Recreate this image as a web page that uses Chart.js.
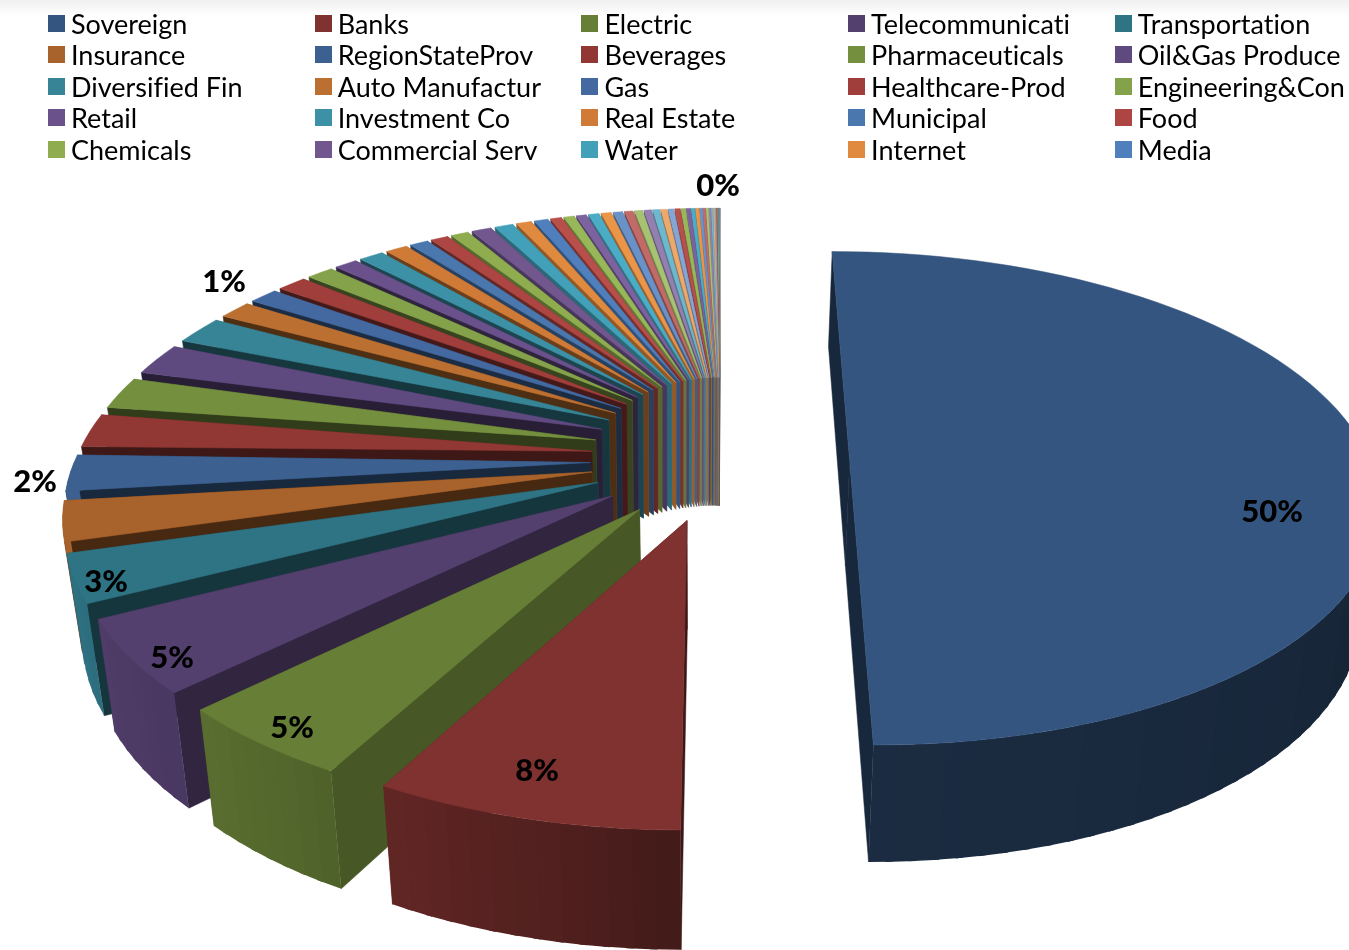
<!DOCTYPE html>
<html>
<head>
<meta charset="utf-8">
<script src="https://cdn.jsdelivr.net/npm/chart.js@4"></script>
<style>
html, body { margin: 0; padding: 0; width: 1349px; height: 950px; overflow: hidden; background: #fff; }
#fade { position: absolute; left: 0; top: 0; width: 1349px; height: 16px; background: linear-gradient(#f0f0f0, #fff); }
#chartSectores { position: absolute; left: 0; top: 0; }
#leyenda { position: absolute; left: 48px; top: 7.6px; display: grid; grid-template-columns: repeat(5, 266.7px); grid-auto-rows: 31.5px;
  font-family: Lato, sans-serif; font-size: 27px; font-variant-ligatures: none; color: #000; white-space: nowrap; }
#leyenda div { display: flex; align-items: center; }
#leyenda i { display: inline-block; width: 17px; height: 17px; margin-right: 6px; flex: none; }
</style>
</head>
<body>
<div id="fade"></div>
<canvas id="chartSectores" width="1349" height="950"></canvas>
<div id="leyenda"></div>
<script>
const categories = [
    'Sovereign', 'Banks', 'Electric', 'Telecommunicati', 'Transportation',
    'Insurance', 'RegionStateProv', 'Beverages', 'Pharmaceuticals', 'Oil&Gas Produce',
    'Diversified Fin', 'Auto Manufactur', 'Gas', 'Healthcare-Prod', 'Engineering&Con',
    'Retail', 'Investment Co', 'Real Estate', 'Municipal', 'Food',
    'Chemicals', 'Commercial Serv', 'Water', 'Internet', 'Media'
];
const shares = [
    50, 7.9, 4.8, 4.75, 3.1,
    2.6, 2.35, 2.2, 2.1, 2.1,
    1.85, 1.2, 1.05, 1.07, 0.97,
    0.83, 0.89, 0.79, 0.67, 0.64,
    0.64, 0.72, 0.67, 0.55, 0.5,
    // las que no salen en la leyenda
    0.4, 0.38, 0.36, 0.38, 0.36, 0.34, 0.3, 0.28, 0.26, 0.24,
    0.22, 0.2, 0.18, 0.16, 0.14, 0.13, 0.12, 0.1, 0.09, 0.08,
    0.07, 0.06, 0.05, 0.04, 0.03, 0.03, 0.02, 0.02, 0.01, 0.01
];
const legendColors = [
    '#34557f', '#7f3230', '#667e36', '#54406f', '#2f7485',
    '#a8622b', '#3c6191', '#913835', '#748f3e', '#5f4a80',
    '#368496', '#bb6f30', '#4369a0', '#a03e3b', '#84a24a',
    '#6b518c', '#3c91a7', '#d07a37', '#4a77ae', '#ad4643',
    '#8fad4e', '#72578f', '#42a0b8', '#e08a3f', '#4f80bd'
];
const tailColors = ['#b84f4b', '#97b758', '#7d62a0', '#4bacc6', '#eb9549', '#6a92c8', '#c26a67', '#a7c272', '#9380b0', '#6db8ce', '#eda86c', '#85a5d2'];
const percentLabels = [
    { slice: 0, x: 1272, y: 512 },
    { slice: 1, x: 537, y: 771 },
    { slice: 2, x: 292, y: 728 },
    { slice: 3, x: 172, y: 658 },
    { slice: 4, x: 106, y: 582 },
    { slice: 6, x: 35, y: 482 },
    { slice: 11, x: 224, y: 282 },
    { slice: 54, x: 718, y: 186 }
];

const sliceColors = shares.map((_, i) => i < legendColors.length ? legendColors[i] : tailColors[(i - legendColors.length) % tailColors.length]);

// vista: perspectiva del disco, la separacion y el canto
const view = { cx: 720, cy: 460, ax: 518, ay: 240.6, persp: 0.155, perspX: 0.003, explode: 0.25 };

function proyectar(X, Y) {
    const w = 1 - view.persp * Y - view.perspX * X;
    return { x: view.cx + view.ax * X / w, y: view.cy + view.ay * Y / w };
}

// el canto baja mas por delante y se cierra un poco hacia el centro
function bajar(p, Y) {
    return { x: p.x - 0.028 * (p.x - 700), y: p.y + 106 + 11 * Y };
}

function sombra(hex, f) {
    const n = parseInt(hex.slice(1), 16);
    return `rgb(${Math.round((n >> 16) * f)},${Math.round(((n >> 8) & 255) * f)},${Math.round((n & 255) * f)})`;
}

function tramo(tabla, t) {
    if (t <= tabla[0][0]) return tabla[0][1];
    for (let i = 1; i < tabla.length; i++) {
        if (t <= tabla[i][0]) {
            const [a, fa] = tabla[i - 1], [b, fb] = tabla[i];
            return fa + (fb - fa) * (t - a) / (b - a);
        }
    }
    return tabla[tabla.length - 1][1];
}

const luzCanto = [[90, 0.4], [180, 0.52], [190, 0.62], [215, 0.82], [255, 1]];
const luzRadial = [[180, 0.47], [200, 0.75], [230, 0.55], [250, 0.42], [315, 0.42], [335, 0.65]];

function poligono(ctx, puntos, color, conBorde = true) {
    ctx.beginPath();
    puntos.forEach((p, i) => i ? ctx.lineTo(p.x, p.y) : ctx.moveTo(p.x, p.y));
    ctx.closePath();
    ctx.fillStyle = color;
    ctx.fill();
    if (conBorde) {
        ctx.strokeStyle = color;
        ctx.lineWidth = 0.5;
        ctx.stroke();
    }
}

function dibujarSector(ctx, arc, color) {
    const { startAngle: a0, endAngle: a1 } = arc;
    const mid = (a0 + a1) / 2;
    const ex = view.explode * Math.cos(mid), ey = view.explode * Math.sin(mid);
    const borde = a => [ex + Math.cos(a), ey + Math.sin(a)];
    const pasos = Math.max(1, Math.ceil((a1 - a0) / 0.04));

    // los vertices del fondo suben algo mas de lo que daria la separacion
    const apice = proyectar(ex, ey < 0 ? ey * 1.45 : ey);
    const apiceBajo = bajar(proyectar(ex, ey), ey);

    const [fx, fy] = borde(a1);
    const luzFin = a1 - a0 > 3 ? 0.47 : 0.75;
    poligono(ctx, [apice, proyectar(fx, fy), bajar(proyectar(fx, fy), fy), apiceBajo], sombra(color, luzFin));

    const [sx, sy] = borde(a0);
    const grados = (a0 + Math.PI / 2) * 180 / Math.PI;
    poligono(ctx, [apice, proyectar(sx, sy), bajar(proyectar(sx, sy), sy), apiceBajo], sombra(color, tramo(luzRadial, grados)));

    for (let i = 0; i < pasos; i++) {
        const b0 = a0 + (a1 - a0) * i / pasos, b1 = a0 + (a1 - a0) * (i + 1) / pasos;
        if (Math.sin((b0 + b1) / 2) <= 0) continue;
        // cada tira pisa un poco la siguiente para que no se vea la costura
        const [x0, y0] = borde(b0), [x1, y1] = borde(Math.min(a1, b1 + 0.012));
        const p0 = proyectar(x0, y0), p1 = proyectar(x1, y1);
        const g = ((b0 + b1) / 2 + Math.PI / 2) * 180 / Math.PI;
        poligono(ctx, [p0, p1, bajar(p1, y1), bajar(p0, y0)], sombra(color, tramo(luzCanto, g)), false);
    }

    const cara = [apice];
    for (let i = 0; i <= pasos; i++) {
        const [x, y] = borde(a0 + (a1 - a0) * i / pasos);
        cara.push(proyectar(x, y));
    }
    poligono(ctx, cara, color);
}

const pie3d = {
    id: 'pie3d',
    beforeDatasetsDraw(chart) {
        const arcs = chart.getDatasetMeta(0).data.map((arc, i) => ({ arc, i }));
        arcs.sort((p, q) => Math.sin((p.arc.startAngle + p.arc.endAngle) / 2) - Math.sin((q.arc.startAngle + q.arc.endAngle) / 2));
        const ctx = chart.ctx;
        ctx.save();
        ctx.lineJoin = 'round';
        arcs.forEach(({ arc, i }) => dibujarSector(ctx, arc, sliceColors[i]));
        ctx.fillStyle = '#000';
        ctx.font = '900 31px Lato, sans-serif';
        ctx.textAlign = 'center';
        ctx.textBaseline = 'middle';
        const total = shares.reduce((s, v) => s + v, 0);
        percentLabels.forEach(l => ctx.fillText(Math.round(shares[l.slice] / total * 100) + '%', l.x, l.y));
        ctx.restore();
        return false;
    }
};

new Chart(document.getElementById('chartSectores'), {
    type: 'pie',
    data: {
        labels: categories,
        datasets: [{ data: shares, backgroundColor: sliceColors, borderWidth: 0 }]
    },
    options: {
        responsive: false,
        animation: false,
        events: [],
        plugins: { legend: { display: false }, tooltip: { enabled: false } }
    },
    plugins: [pie3d]
});

const leyenda = document.getElementById('leyenda');
categories.forEach((nombre, i) => {
    const item = document.createElement('div');
    const caja = document.createElement('i');
    caja.style.background = legendColors[i];
    item.appendChild(caja);
    item.appendChild(document.createTextNode(nombre));
    leyenda.appendChild(item);
});
</script>
</body>
</html>
